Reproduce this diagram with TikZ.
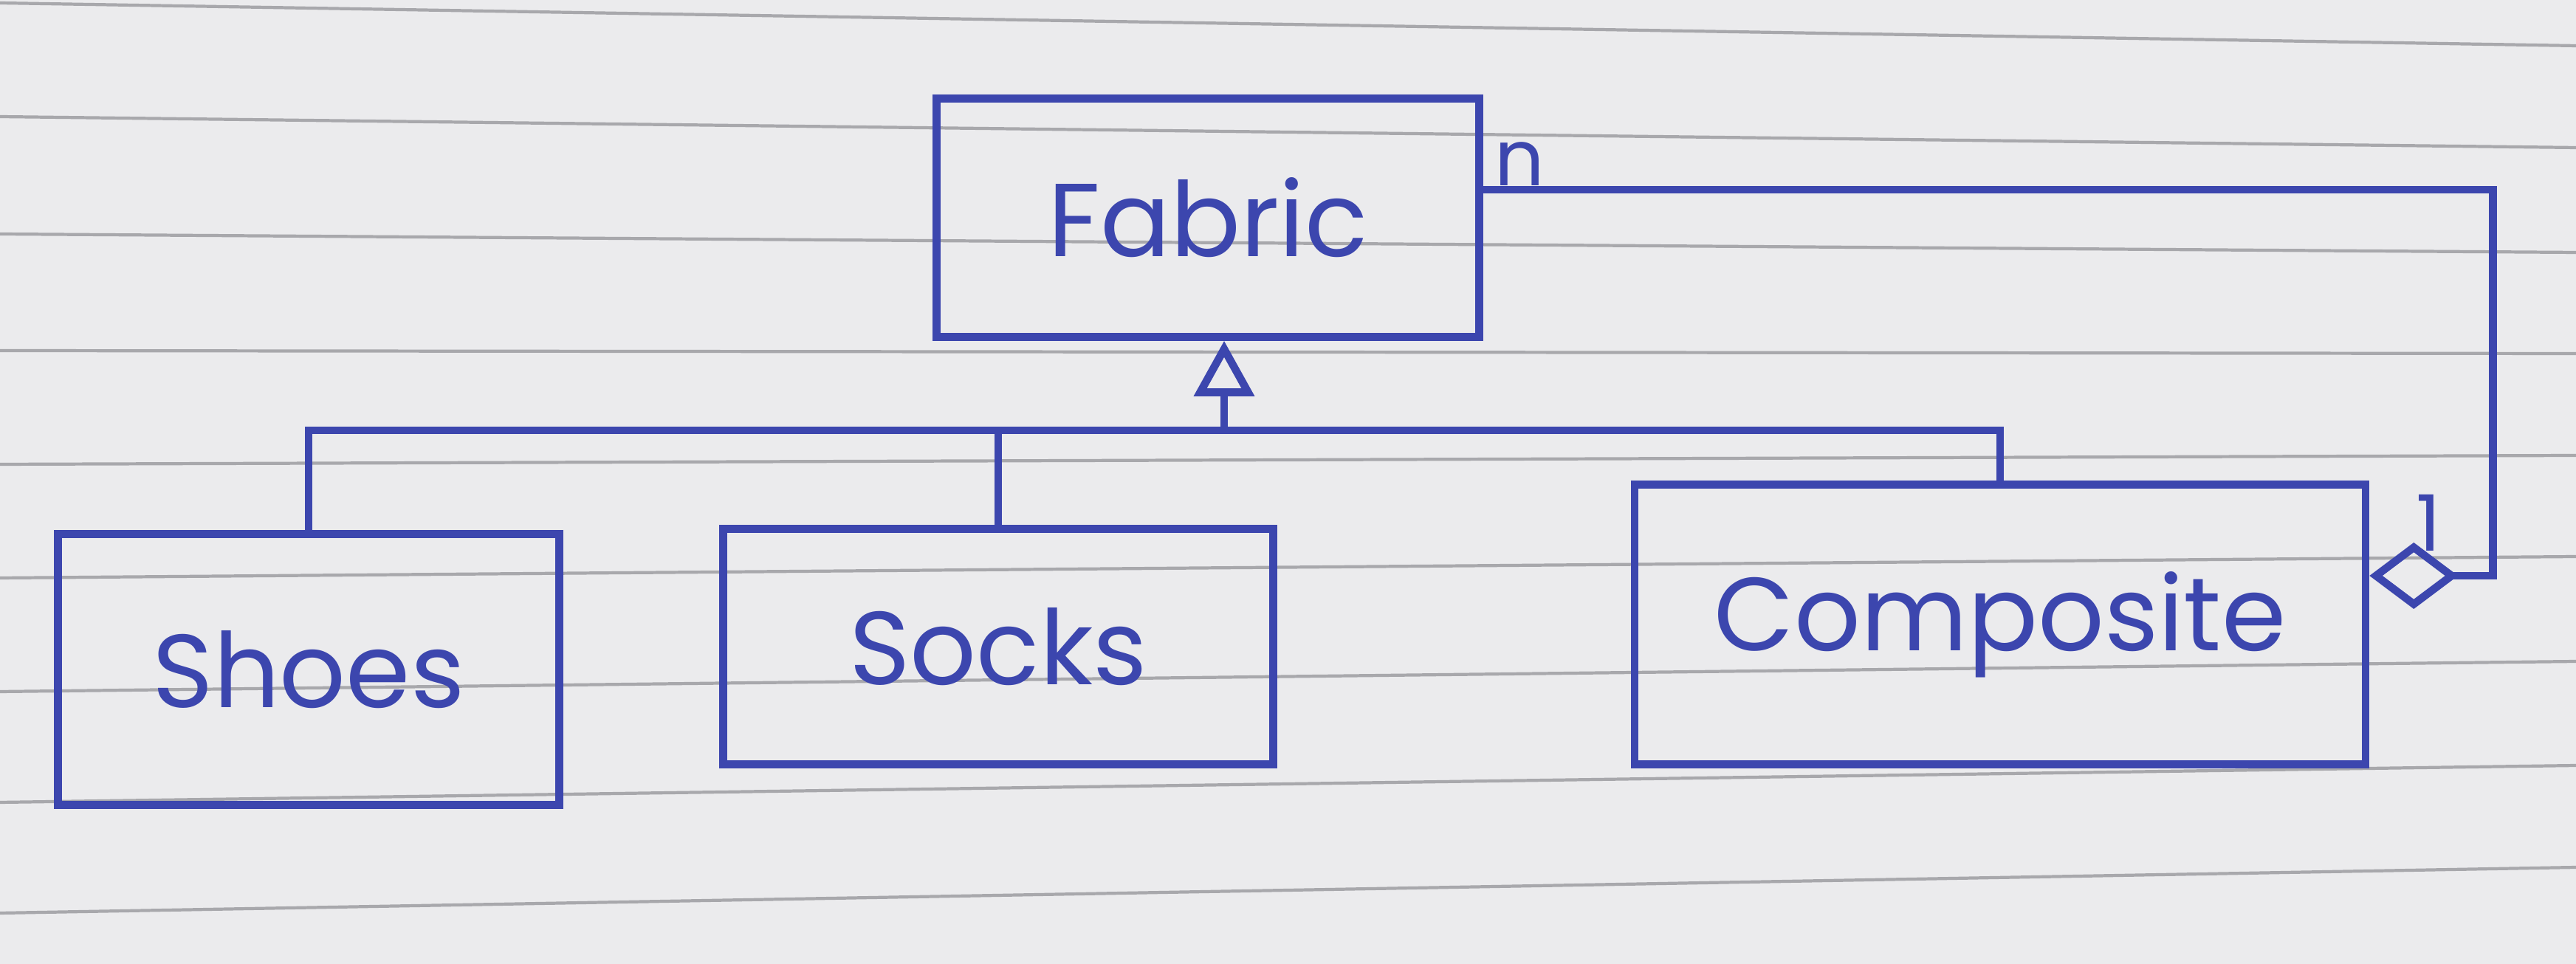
\documentclass[tikz,border=0pt]{standalone}
\usepackage{fontspec}
\setmainfont{Poppins}
\usetikzlibrary{arrows.meta}
\definecolor{ink}{HTML}{3C46AE}
\definecolor{paper}{HTML}{EBEBED}
\definecolor{rule}{HTML}{A8A8AC}
\tikzset{
  cls/.style = {draw=ink, line width=3pt, text=ink, inner sep=0pt,
                font=\fontsize{40}{44}\selectfont},
  link/.style = {draw=ink, line width=3pt},
  mult/.style = {text=ink, font=\fontsize{30}{34}\selectfont}
}
\begin{document}
\begin{tikzpicture}
  % paper
  \fill[paper] (0,0) rectangle (34.89,-13.06);
  \useasboundingbox (0,0) rectangle (34.89,-13.06);
  \foreach \l/\r in {0.04/0.62,1.58/2.00,3.17/3.42,4.75/4.79,6.29/6.17,
                     7.83/7.54,9.37/8.96,10.87/10.37,12.37/11.75}
    \draw[rule, line width=1.2pt] (0,-\l) -- (34.89,-\r);
  % classes
  \node[cls, minimum width=7.35cm, minimum height=3.23cm] (fabric) at (16.36,-2.95) {Fabric};
  \node[cls, minimum width=6.79cm, minimum height=3.67cm] (shoes) at (4.18,-9.07) {Shoes};
  \node[cls, minimum width=7.45cm, minimum height=3.19cm] (socks) at (13.52,-8.76) {Socks};
  \node[cls, minimum width=9.90cm, minimum height=3.79cm] (composite) at (27.09,-8.46) {Composite};
  % inheritance
  \coordinate (bus) at (16.58,-5.83);
  \draw[link, -{Triangle[open, length=7.5mm, width=8mm]}] (bus) -- (bus |- fabric.south);
  \draw[link] (shoes.north) |- (bus);
  \draw[link] (socks.north) -- (socks.north |- bus);
  \draw[link] (composite.north) |- (bus);
  % aggregation
  \coordinate (whole) at ([yshift=6.6mm]composite.east);
  \coordinate (part) at ([yshift=3.8mm]fabric.east);
  \draw[link, {Diamond[open, length=12mm, width=9mm]}-] (whole) -- ++(1.67,0) |- (part);
  \node[mult] (many) at (20.58,-2.22) {n};
  \node[mult] (one) at (32.89,-7.08) {1};
\end{tikzpicture}
\end{document}
